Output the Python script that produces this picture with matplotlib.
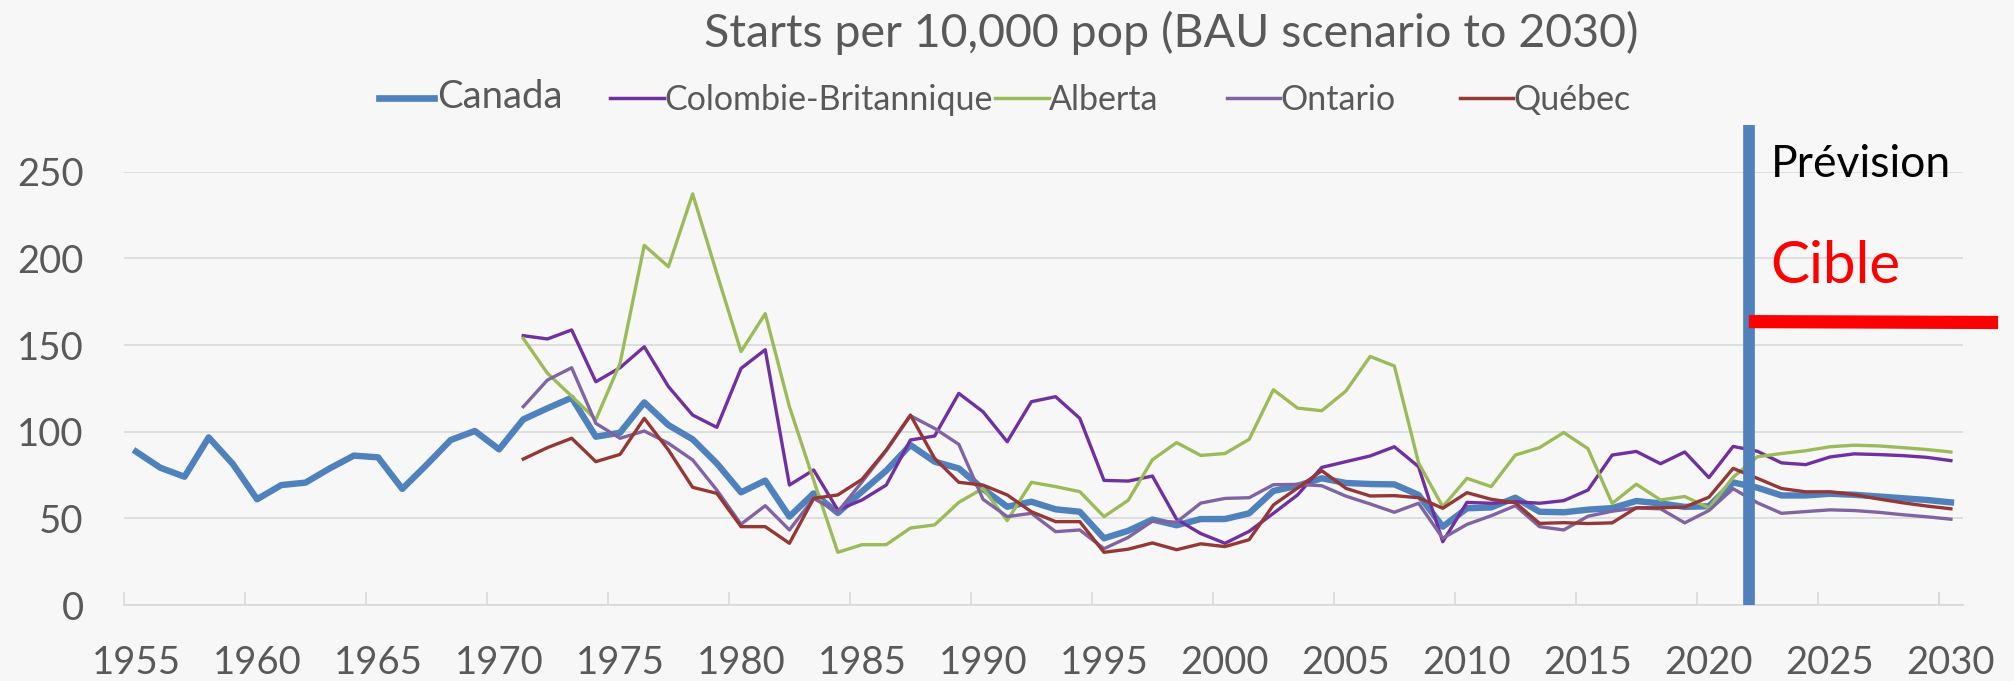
import numpy as np
import matplotlib
matplotlib.use("Agg")
import matplotlib.pyplot as plt
from matplotlib.lines import Line2D

plt.rcParams['font.family'] = ['Lato', 'DejaVu Sans']

# ---------------- data ----------------
years_canada = list(range(1955, 2031))
years_prov = list(range(1971, 2031))

canada = [88.5, 79.2, 74.0, 96.7, 81.3, 61.0, 69.2, 70.6, 78.8, 86.2,
          85.2, 67.0, 80.8, 95.2, 100.4, 89.8, 107.1, 113.5, 119.6, 97.1,
          99.4, 116.9, 103.8, 95.6, 81.7, 65.0, 71.8, 51.0, 64.4, 53.1,
          65.5, 77.5, 92.3, 82.7, 78.8, 67.0, 56.7, 59.6, 55.2, 53.8,
          38.5, 42.8, 49.3, 46.0, 49.6, 49.6, 52.9, 65.8, 68.8, 73.1,
          70.4, 69.8, 69.6, 63.5, 45.2, 55.8, 56.3, 61.9, 53.8, 53.5,
          55.0, 55.9, 60.0, 58.6, 56.6, 57.0, 70.7, 67.7, 63.2, 63.2,
          64.2, 63.6, 62.6, 61.6, 60.6, 59.2]

colombie_britannique = [155.4, 153.5, 158.7, 128.8, 136.9, 149.0, 126.0, 109.6, 102.5, 136.5,
                        147.3, 69.2, 77.9, 54.8, 60.6, 69.2, 95.2, 97.5, 122.1, 111.5,
                        94.2, 117.3, 120.2, 107.7, 71.9, 71.5, 74.4, 49.5, 41.2, 35.6,
                        42.5, 52.9, 63.5, 79.4, 82.7, 86.0, 91.3, 79.8, 36.5, 59.2,
                        58.7, 59.6, 58.7, 60.2, 66.3, 86.5, 88.6, 81.5, 88.3, 73.5,
                        91.5, 88.7, 82.0, 81.0, 85.4, 87.2, 86.8, 86.2, 85.2, 83.3]

alberta = [153.8, 133.7, 120.5, 107.0, 139.4, 207.5, 195.2, 237.2, 191.3, 146.2,
           168.1, 114.4, 72.0, 30.4, 34.8, 34.8, 44.4, 46.2, 59.2, 67.3,
           48.7, 70.8, 68.3, 65.4, 51.0, 60.4, 83.8, 93.7, 86.3, 87.4,
           95.6, 124.2, 113.6, 112.1, 123.5, 143.4, 137.9, 82.0, 56.7, 73.1,
           68.3, 86.5, 90.8, 99.5, 90.2, 58.6, 69.7, 60.6, 62.6, 56.0,
           73.7, 85.5, 87.4, 89.0, 91.3, 92.2, 91.8, 90.8, 89.7, 88.3]

ontario = [114.4, 129.8, 136.9, 104.8, 96.2, 100.4, 93.3, 83.7, 66.3, 46.6,
           57.3, 43.3, 61.5, 53.8, 71.0, 89.0, 109.2, 101.9, 92.7, 61.0,
           51.0, 52.9, 42.3, 43.3, 32.5, 39.0, 48.4, 47.8, 58.8, 61.5,
           61.9, 69.4, 69.6, 68.8, 62.8, 58.3, 53.5, 58.7, 38.5, 46.5,
           51.5, 57.3, 45.2, 43.3, 51.2, 54.1, 56.0, 55.5, 47.4, 54.5,
           67.1, 59.0, 52.9, 53.9, 54.9, 54.5, 53.5, 52.1, 50.9, 49.5]

quebec = [84.2, 90.8, 96.2, 82.7, 86.9, 107.7, 89.4, 67.9, 64.4, 45.2,
          45.2, 35.6, 61.5, 63.5, 72.5, 89.4, 109.6, 84.6, 70.8, 69.2,
          63.5, 53.8, 48.1, 48.1, 30.4, 32.2, 35.8, 31.9, 35.3, 33.7,
          37.7, 57.7, 67.5, 77.5, 67.3, 62.9, 63.1, 61.9, 55.8, 64.8,
          61.0, 59.0, 47.1, 47.5, 47.0, 47.4, 56.1, 56.1, 56.5, 62.2,
          78.8, 73.1, 67.2, 65.3, 65.3, 63.7, 61.2, 59.0, 57.1, 55.5]

series_names = ["Canada", "Colombie-Britannique", "Alberta", "Ontario", "Québec"]
series_colors = ["#4F81BD", "#7030A0", "#9BBB59", "#8064A2", "#953735"]

# forecast marker and target line
prevision_year = 2021.65
prevision_top = 277
cible_x = [2021.65, 2031.95]
cible_y = [163.5, 163.0]

tick_years = list(range(1955, 2031, 5))

# ---------------- figure ----------------
W, H = 2014, 681
bg = "#F7F7F7"
grey_txt = "#595959"
grid_c = "#D9D9D9"

fig = plt.figure(figsize=(W / 100, H / 100), dpi=100, facecolor=bg)
ax = fig.add_axes([124 / W, (H - 605) / H, (1963 - 124) / W, (605 - 171.7) / H])
ax.set_facecolor(bg)

series_x = [years_canada, years_prov, years_prov, years_prov, years_prov]
series_y = [canada, colombie_britannique, alberta, ontario, quebec]
widths = [4.6, 2.4, 2.4, 2.4, 2.4]
for xs, ys, c, lw in zip(series_x, series_y, series_colors, widths):
    ax.plot(xs, ys, color=c, lw=lw, solid_joinstyle='round', zorder=3)

ax.set_xlim(1954.5, 2030.5)
ax.set_ylim(0, 250)

# axis styling (Excel-like)
for s in ['top', 'right', 'left']:
    ax.spines[s].set_visible(False)
ax.spines['bottom'].set_color(grid_c)
ax.spines['bottom'].set_linewidth(1.2)

ax.set_yticks([0, 50, 100, 150, 200, 250])
ax.yaxis.grid(True, color=grid_c, lw=1.2)
ax.set_axisbelow(True)
ax.tick_params(axis='y', length=0, pad=29, labelsize=27.5, labelcolor=grey_txt)

ax.set_xticks([y - 0.5 for y in tick_years] + [2029.5])
ax.set_xticklabels([])
ax.set_xticks(tick_years, minor=True)
ax.set_xticklabels([str(y) for y in tick_years], minor=True)
ax.tick_params(axis='x', which='major', direction='in', length=9.5, width=1.2, color=grid_c)
ax.tick_params(axis='x', which='minor', length=0, pad=28.5, labelsize=27.5, labelcolor=grey_txt)

# forecast vertical line and target
ax.plot([prevision_year, prevision_year], [0, prevision_top], color="#4F81BD",
        lw=8.4, solid_capstyle='butt', clip_on=False, zorder=5)
ax.plot(cible_x, cible_y, color="#FF0000", lw=9.5, solid_capstyle='butt',
        clip_on=False, zorder=6)
ax.text(2022.55, 247.1, "Prévision", color="black", fontsize=32, va='baseline',
        ha='left', zorder=7)
ax.text(2022.55, 185.6, "Cible", color="#FF0000", fontsize=42, va='baseline',
        ha='left', zorder=7)

# title
fig.text(1171 / W, 1 - 46.7 / H, "Starts per 10,000 pop (BAU scenario to 2030)",
         ha='center', va='baseline', fontsize=33.5, color=grey_txt)

# legend drawn by hand to match layout
leg_lines = [(379, 434), (610, 664), (995, 1049), (1227, 1280), (1460, 1513)]
leg_text_x = [437, 664, 1049, 1280, 1513]
leg_sizes = [27.5, 24.5, 24.5, 24.5, 24.5]
leg_lw = [4.8, 2.5, 2.5, 2.5, 2.5]
for name, c, (x0, x1), tx, fs, lw in zip(series_names, series_colors, leg_lines,
                                          leg_text_x, leg_sizes, leg_lw):
    fig.add_artist(Line2D([x0 / W, x1 / W], [1 - 98.3 / H, 1 - 98.3 / H],
                          transform=fig.transFigure, color=c, lw=lw))
    base = 108.3 if name == "Canada" else 110
    fig.text(tx / W, 1 - base / H, name, ha='left', va='baseline',
             fontsize=fs, color=grey_txt)

fig.savefig("out.png", dpi=100, facecolor=bg)
